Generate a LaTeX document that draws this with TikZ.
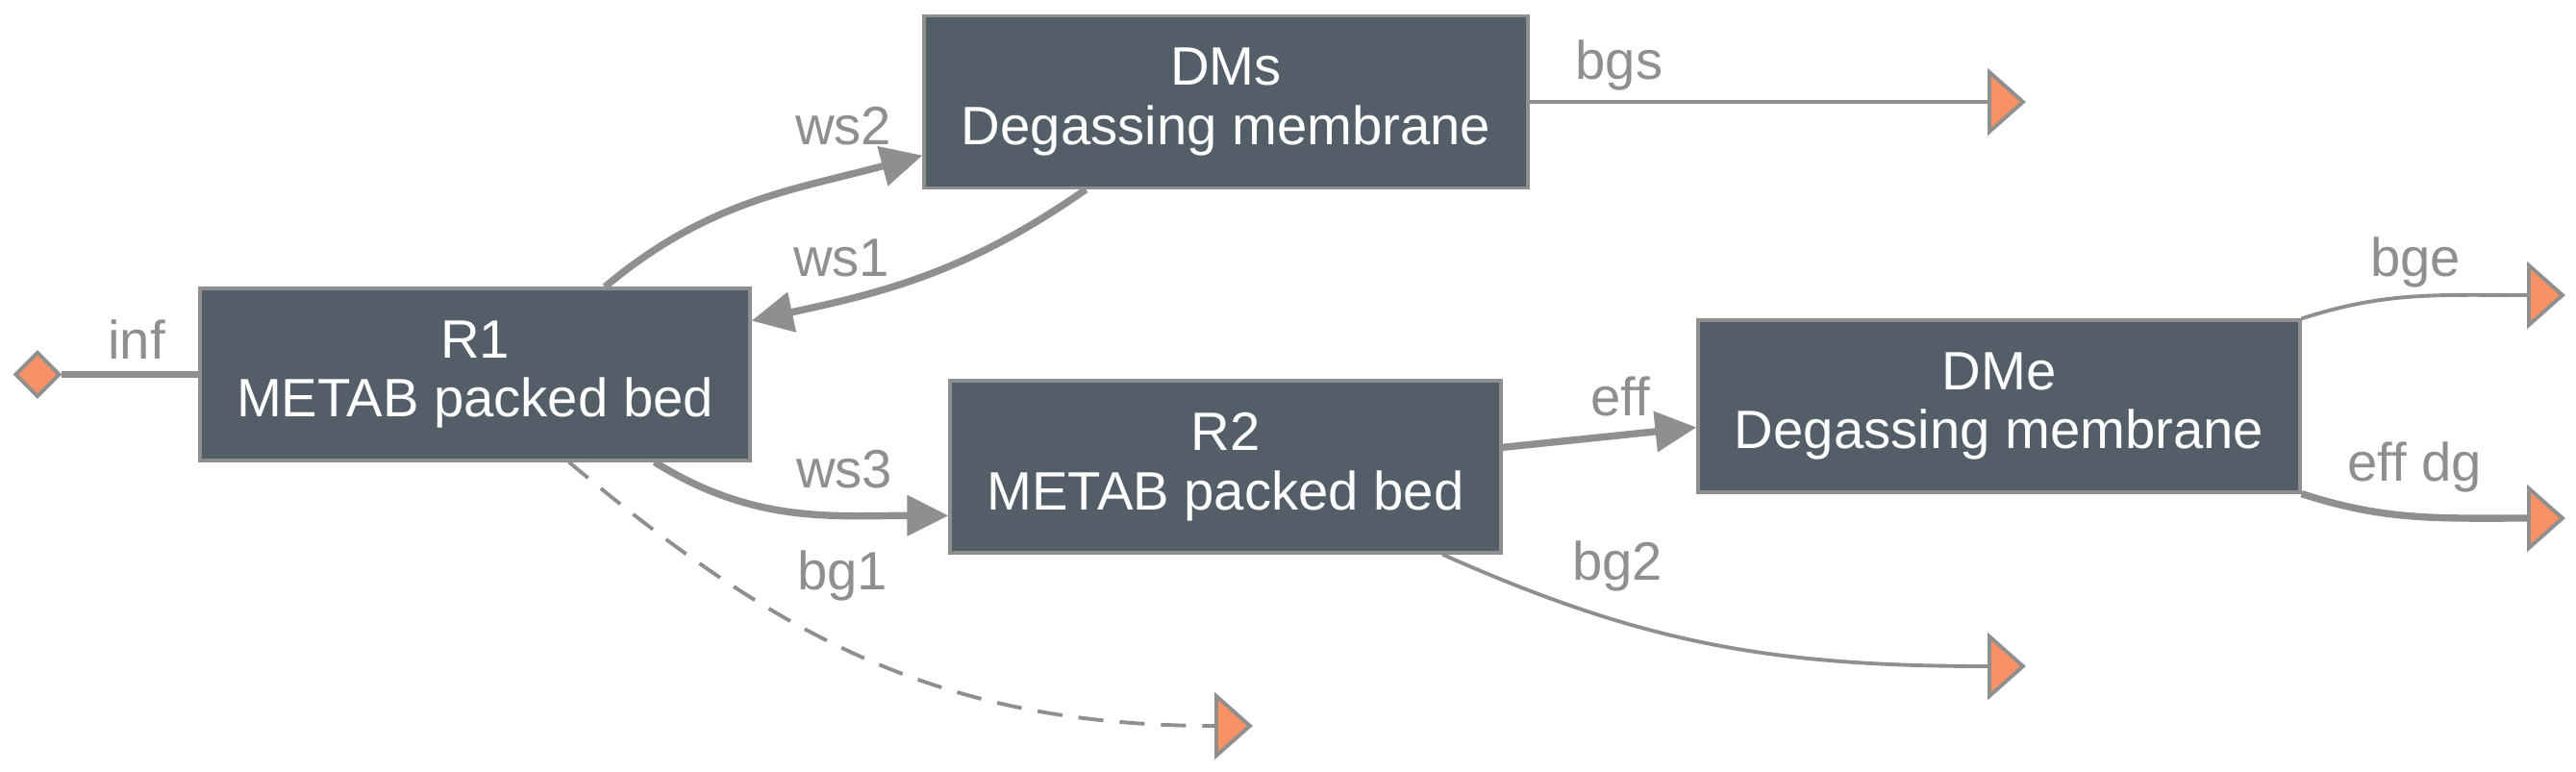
\documentclass[tikz,border=0pt]{standalone}
\usepackage{fontspec}
\setmainfont{Liberation Sans}
\usepackage{xcolor}
\definecolor{unitfill}{RGB}{84,94,105}
\definecolor{edgegray}{RGB}{143,143,143}
\definecolor{termfill}{RGB}{248,145,99}
\usetikzlibrary{shapes.geometric,arrows.meta}
\tikzset{
  unitbox/.style={rectangle, draw=edgegray, line width=0.9pt, fill=unitfill,
                  text=white, align=center, minimum height=1.79cm, inner sep=0pt,
                  font=\fontsize{16}{17.6}\selectfont},
  termtri/.style={isosceles triangle, isosceles triangle stretches, anchor=west,
                  draw=edgegray, line width=1.1pt, fill=termfill,
                  minimum width=0.62cm, minimum height=0.35cm, inner sep=0pt},
  srcdia/.style={diamond, draw=edgegray, line width=1.1pt, fill=termfill,
                 minimum width=0.47cm, minimum height=0.47cm, inner sep=0pt},
  mainflow/.style={draw=edgegray, line width=2.1pt},
  gasflow/.style={draw=edgegray, line width=1.1pt},
  tipA/.style={-{Triangle[length=0.43cm,width=0.41cm]}},
  flowlbl/.style={anchor=base, text=edgegray, inner sep=0pt,
                  font=\fontsize{16}{17.6}\selectfont},
}

\begin{document}
\begin{tikzpicture}
  \useasboundingbox (0,0) rectangle (26.79,-8.02);
  % Process units
  \node[unitbox, minimum width=5.72cm] (R1) at (4.94,-3.895) {R1\\METAB packed bed};
  \node[unitbox, minimum width=6.28cm] (DMs) at (12.75,-1.06) {DMs\\Degassing membrane};
  \node[unitbox, minimum width=5.73cm] (R2) at (12.745,-4.855) {R2\\METAB packed bed};
  \node[unitbox, minimum width=6.26cm] (DMe) at (20.79,-4.225) {DMe\\Degassing membrane};
  % Feed and outlets
  \node[srcdia] (inf) at (0.39,-3.895) {};
  \node[termtri] (bgsOut) at (20.67,-1.06) {};
  \node[termtri] (bgeOut) at (26.28,-3.07) {};
  \node[termtri] (effdgOut) at (26.28,-5.39) {};
  \node[termtri] (bg2Out) at (20.67,-6.93) {};
  \node[termtri] (bg1Out) at (12.63,-7.55) {};
  % Liquid streams
  \draw[mainflow] (inf.east) -- (R1.west);
  \draw[mainflow, tipA] (R1.34) to[out=40, in=195] (DMs.190);
  \draw[mainflow, tipA] (DMs.212) to[out=215, in=12] (R1.11);
  \draw[mainflow, tipA] (R1.-26) to[out=-32, in=180] (R2.190);
  \draw[mainflow, tipA] (R2.4.5) -- (DMe.184);
  \draw[mainflow] (DMe.south east) to[out=-18, in=180] (effdgOut.west);
  % Gas streams
  \draw[gasflow, dash pattern=on 0.26cm off 0.17cm] (R1.-43) to[out=-40, in=180] (bg1Out.west);
  \draw[gasflow] (R2.-22.5) to[out=-24, in=180] (bg2Out.west);
  \draw[gasflow] (DMs.east) -- (bgsOut.west);
  \draw[gasflow] (DMe.north east) to[out=18, in=180] (bgeOut.west);
  % Stream labels
  \node[flowlbl] (infL) at (1.42,-3.73) {inf};
  \node[flowlbl] (ws2L) at (8.77,-1.50) {ws2};
  \node[flowlbl] (ws1L) at (8.75,-2.87) {ws1};
  \node[flowlbl] (ws3L) at (8.78,-5.07) {ws3};
  \node[flowlbl] (bg1L) at (8.76,-6.13) {bg1};
  \node[flowlbl] (effL) at (16.85,-4.32) {eff};
  \node[flowlbl] (bg2L) at (16.82,-6.03) {bg2};
  \node[flowlbl] (bgsL) at (16.84,-0.82) {bgs};
  \node[flowlbl] (bgeL) at (25.12,-2.87) {bge};
  \node[flowlbl] (effdgL) at (25.11,-5.00) {eff dg};
\end{tikzpicture}
\end{document}
